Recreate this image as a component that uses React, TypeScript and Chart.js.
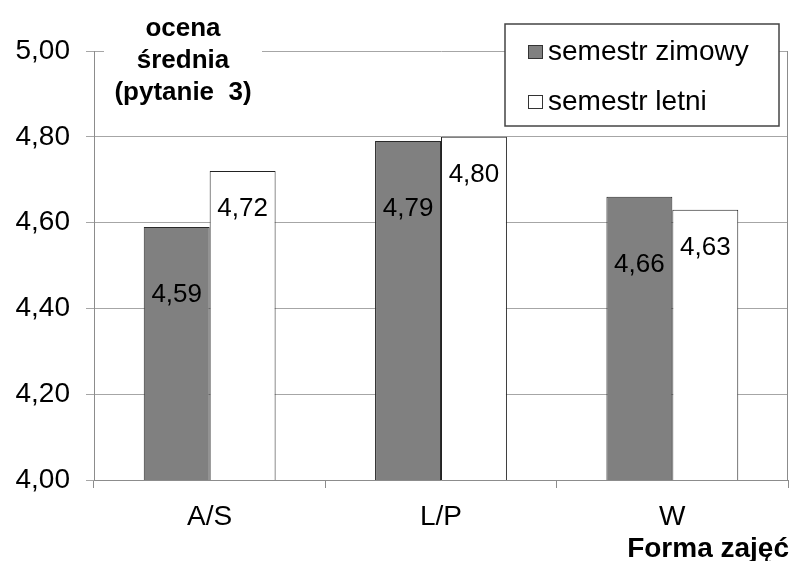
import React, { useEffect, useRef } from "react";
import { Chart, registerables } from "chart.js";
Chart.register(...registerables);

const categories = ["A/S", "L/P", "W"];
const winterValues = [4.59, 4.79, 4.66];
const summerValues = [4.72, 4.8, 4.63];
const seriesNames = ["semestr zimowy", "semestr letni"];
const yMin = 4.0;
const yMax = 5.0;
const yStep = 0.2;
const titleLines = ["ocena", "średnia", "(pytanie  3)"];
const xAxisTitle = "Forma zajęć";

const FONT = "'Liberation Sans', Arial, sans-serif";
const fmt = (v: number) => Number(v).toFixed(2).replace(".", ",");

export default function App() {
  const ref = useRef<HTMLCanvasElement | null>(null);
  useEffect(() => {
    const canvas = ref.current!;
    const decorPlugin = {
      id: "decor",
      afterDatasetsDraw(chart: any) {
        const ctx = chart.ctx;
        const offsets = [68, 38];
        ctx.save();
        ctx.fillStyle = "#000";
        ctx.font = `26px ${FONT}`;
        ctx.textAlign = "center";
        ctx.textBaseline = "middle";
        chart.data.datasets.forEach((ds: any, di: number) => {
          const meta = chart.getDatasetMeta(di);
          meta.data.forEach((el: any, i: number) => {
            ctx.fillText(fmt(ds.data[i]), el.x, el.y + offsets[di]);
          });
        });
        ctx.restore();
      },
      afterDraw(chart: any) {
        const ctx = chart.ctx;
        const a = chart.chartArea;
        ctx.save();
        // right plot border
        ctx.strokeStyle = "#8c8c8c";
        ctx.lineWidth = 1;
        ctx.beginPath();
        ctx.moveTo(Math.round(a.right) - 0.5, a.top);
        ctx.lineTo(Math.round(a.right) - 0.5, a.bottom);
        ctx.stroke();
        // title block
        ctx.fillStyle = "#fff";
        ctx.fillRect(104, 0, 158, 112);
        ctx.fillStyle = "#000";
        ctx.font = `bold 26px ${FONT}`;
        ctx.textAlign = "center";
        ctx.textBaseline = "middle";
        titleLines.forEach((t, i) => ctx.fillText(t, 183, 29 + i * 32));
        // x axis title
        ctx.font = `bold 28px ${FONT}`;
        ctx.textAlign = "right";
        ctx.fillText(xAxisTitle, 789, 549);
        // legend
        ctx.fillStyle = "#fff";
        ctx.fillRect(505, 24, 274, 102);
        ctx.strokeStyle = "#444";
        ctx.lineWidth = 1.5;
        ctx.strokeRect(505, 24, 274, 102);
        ctx.font = `28px ${FONT}`;
        ctx.textAlign = "left";
        chart.data.datasets.forEach((ds: any, di: number) => {
          const cy = 52 + di * 50;
          ctx.fillStyle = ds.backgroundColor;
          ctx.fillRect(528, cy - 7, 14, 13);
          ctx.strokeStyle = "#333";
          ctx.lineWidth = 1;
          ctx.strokeRect(528.5, cy - 6.5, 14, 13);
          ctx.fillStyle = "#000";
          ctx.fillText(ds.label, 548, cy);
        });
        ctx.restore();
      },
    };
    const chart = new Chart(canvas, {
      type: "bar",
      data: {
        labels: categories,
        datasets: [
          {
            label: seriesNames[0],
            data: winterValues,
            backgroundColor: "#808080",
            borderColor: "#2a2a2a",
            borderWidth: 1,
            borderSkipped: false,
            barPercentage: 1,
            categoryPercentage: 0.57,
          },
          {
            label: seriesNames[1],
            data: summerValues,
            backgroundColor: "#ffffff",
            borderColor: "#222222",
            borderWidth: 1,
            borderSkipped: false,
            barPercentage: 1,
            categoryPercentage: 0.57,
          },
        ],
      },
      options: {
        responsive: false,
        animation: false,
        devicePixelRatio: 1,
        layout: { padding: { top: 51, right: 4, left: 0, bottom: 0 } },
        plugins: { legend: { display: false }, title: { display: false }, tooltip: { enabled: false } },
        scales: {
          x: {
            offset: true,
            grid: { display: true, drawOnChartArea: false, drawTicks: true, tickLength: 8, color: "#8c8c8c", offset: true },
            border: { color: "#8c8c8c" },
            ticks: { color: "#000", font: { family: FONT, size: 28 }, padding: 12 },
            afterFit: (s: any) => {
              s.height = 81;
            },
          },
          y: {
            min: yMin,
            max: yMax,
            ticks: {
              stepSize: yStep,
              color: "#000",
              font: { family: FONT, size: 28 },
              padding: 16,
              callback: (v: any) => fmt(v),
            },
            grid: { color: "#a6a6a6", tickLength: 8 },
            border: { color: "#8c8c8c" },
            afterFit: (s: any) => {
              s.width = 94;
            },
          },
        },
      },
      plugins: [decorPlugin],
    } as any);
    return () => chart.destroy();
  }, []);
  return (
    <div style={{ position: "absolute", left: 0, top: 0, width: 792, height: 561, background: "#fff" }}>
      <canvas ref={ref} width={792} height={561} style={{ width: 792, height: 561 }} />
    </div>
  );
}
